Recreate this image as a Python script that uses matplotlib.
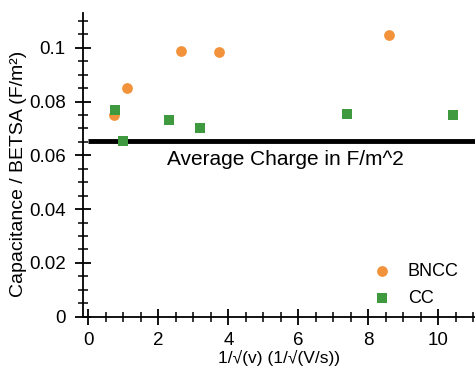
import matplotlib
matplotlib.use("Agg")
import matplotlib.pyplot as plt
from matplotlib.ticker import MultipleLocator

plt.rcParams['font.family'] = ['Liberation Sans', 'DejaVu Sans']

# data
bncc_x = [0.72, 1.10, 2.64, 3.72, 8.59]
bncc_y = [0.0751, 0.0850, 0.0987, 0.0985, 0.1047]
cc_x = [0.75, 0.99, 2.30, 3.18, 7.38, 10.43]
cc_y = [0.0770, 0.0653, 0.0733, 0.0703, 0.0754, 0.0751]
avg_charge = 0.0652
yticks = [0, 0.02, 0.04, 0.06, 0.08, 0.1]
ytick_labels = ['0', '0.02', '0.04', '0.06', '0.08', '0.1']

fig = plt.figure(figsize=(4.75, 3.67), dpi=100)
ax = fig.add_axes([0.175, 0.137, 0.825, 0.828])

ax.scatter(bncc_x, bncc_y, s=60, color='#f2923a', marker='o', label='BNCC', zorder=3, linewidths=0)
ax.scatter(cc_x, cc_y, s=50, color='#3f9a3f', marker='s', label='CC', zorder=3, linewidths=0)
ax.hlines(avg_charge, 0, 11.1, color='black', lw=3.5, zorder=2)
ax.text(2.26, 0.0565, 'Average Charge in F/m^2', ha='left', va='baseline', fontsize=15)

ax.set_xlim(-0.15, 11.05)
ax.set_ylim(0, 0.113)
ax.xaxis.set_major_locator(MultipleLocator(2))
ax.xaxis.set_minor_locator(MultipleLocator(0.5))
ax.yaxis.set_minor_locator(MultipleLocator(0.005))
ax.set_yticks(yticks)
ax.set_yticklabels(ytick_labels)
ax.tick_params(which='major', direction='inout', length=12, width=1.3, labelsize=13.5, pad=5)
ax.tick_params(which='minor', direction='inout', length=6.5, width=1.1)
ax.tick_params(axis='y', which='major', pad=6.5)

for s in ['top', 'right']:
    ax.spines[s].set_visible(False)
for s in ['left', 'bottom']:
    ax.spines[s].set_linewidth(1.3)

ax.set_xlabel('1/√(v) (1/√(V/s))', fontsize=12.5, labelpad=1)
ax.set_ylabel('Capacitance / BETSA (F/m²)', fontsize=14, labelpad=0)
ax.yaxis.set_label_coords(-0.142, 0.47)
ax.legend(loc='lower right', frameon=False, fontsize=13, handletextpad=0.7,
          bbox_to_anchor=(1.0, -0.02), labelspacing=0.55, handlelength=1.5)

fig.savefig('out.png', dpi=100)
